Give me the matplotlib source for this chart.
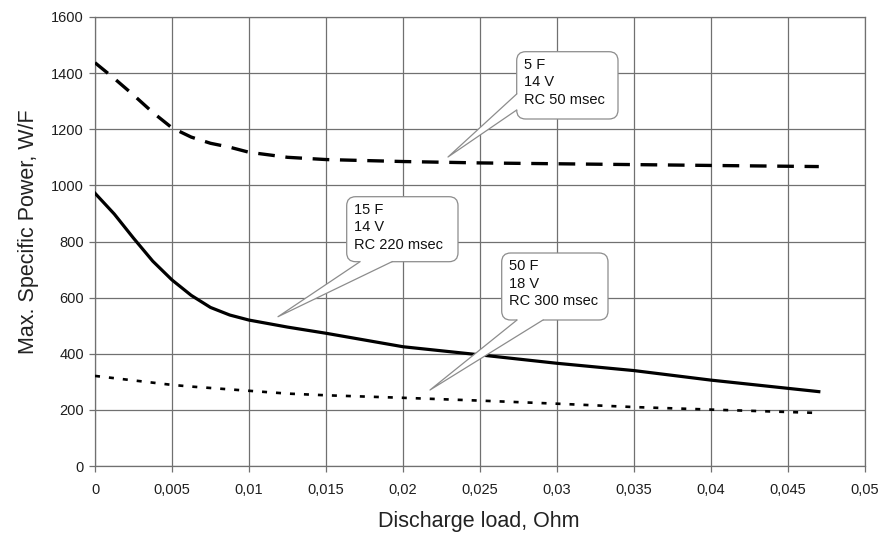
import matplotlib
matplotlib.use("Agg")
import matplotlib.pyplot as plt
from matplotlib.patches import FancyBboxPatch, Polygon
import numpy as np

plt.rcParams['font.family'] = ['Liberation Sans', 'DejaVu Sans']

# ---- data ----
load_ohm = [0, 0.00125, 0.0025, 0.00375, 0.005, 0.00625, 0.0075, 0.00875, 0.01, 0.0125,
            0.015, 0.02, 0.025, 0.03, 0.035, 0.04, 0.047]
power_5F = [1437, 1381, 1322, 1260, 1205, 1172, 1150, 1136, 1118, 1100,
            1092, 1085, 1080, 1077, 1074, 1071, 1067]
power_15F = [972, 898, 812, 730, 663, 608, 565, 538, 520, 495,
             473, 425, 396, 366, 340, 306, 265]
power_50F = [321, 313, 305, 297, 289, 283, 278, 273, 268, 258,
             252, 243, 233, 222, 210, 201, 189]

x_ticks = [0, 0.005, 0.01, 0.015, 0.02, 0.025, 0.03, 0.035, 0.04, 0.045, 0.05]
x_tick_labels = ["0", "0,005", "0,01", "0,015", "0,02", "0,025", "0,03", "0,035", "0,04", "0,045", "0,05"]
y_ticks = [0, 200, 400, 600, 800, 1000, 1200, 1400, 1600]

label_5F = "5 F\n14 V\nRC 50 msec"
label_15F = "15 F\n14 V\nRC 220 msec"
label_50F = "50 F\n18 V\nRC 300 msec"

# ---- figure ----
W, H = 880, 535
fig = plt.figure(figsize=(W / 100, H / 100), dpi=100)
L, R, T, B = 95, 865, 17, 466
ax = fig.add_axes([L / W, 1 - B / H, (R - L) / W, (B - T) / H])
ax.set_xlim(0, 0.05)
ax.set_ylim(0, 1600)

grid_c = '#707070'
ax.set_xticks(x_ticks)
ax.set_xticklabels(x_tick_labels)
ax.set_yticks(y_ticks)
ax.grid(True, color=grid_c, linewidth=0.9)
ax.set_axisbelow(True)
for s in ax.spines.values():
    s.set_color(grid_c)
    s.set_linewidth(0.9)
ax.tick_params(axis='both', colors=grid_c, length=4, width=0.9, labelsize=10.5,
               labelcolor='#1e1e1e')
ax.tick_params(axis='x', pad=8)
ax.tick_params(axis='y', pad=4)

ax.plot(load_ohm, power_5F, color='black', linewidth=2.4, dashes=(5, 3.2),
        solid_capstyle='butt', zorder=3)
ax.plot(load_ohm, power_15F, color='black', linewidth=2.3, zorder=3)
ax.plot(load_ohm, power_50F, color='black', linewidth=1.9, dashes=(1.9, 3.4), zorder=3)

ax.set_xlabel("Discharge load, Ohm", fontsize=15.5, color='#222222')
ax.set_ylabel("Max. Specific Power, W/F", fontsize=15.5, color='#222222')
ax.xaxis.set_label_coords(0.4987, -0.1)
ax.yaxis.set_label_coords(-0.073, 0.521)

# ---- callouts (positions in pixel space, converted to data) ----
xpp = 0.05 / (R - L)      # data x per pixel
ypp = 1600 / (B - T)      # data y per pixel
def px2d(px, py):
    return ((px - L) * xpp, (B - py) * ypp)

aspect = ypp / xpp
edge_c = '#8c8c8c'

def callout(box, base1, base2, tip, text, inward):
    x0, y0 = px2d(box[0], box[3])
    x1, y1 = px2d(box[2], box[1])
    patch = FancyBboxPatch((x0, y0), x1 - x0, y1 - y0,
                           boxstyle="round,pad=0,rounding_size=%g" % (9 * xpp),
                           mutation_aspect=aspect,
                           facecolor='white', edgecolor=edge_c, linewidth=0.9, zorder=5)
    ax.add_patch(patch)
    dx, dy = inward
    b1 = px2d(*base1); b2 = px2d(*base2); t = px2d(*tip)
    b1i = px2d(base1[0] + dx, base1[1] + dy)
    b2i = px2d(base2[0] + dx, base2[1] + dy)
    ax.add_patch(Polygon([b1i, b1, t, b2, b2i], closed=True, facecolor='white',
                         edgecolor='none', zorder=6))
    ax.plot([b1[0], t[0], b2[0]], [b1[1], t[1], b2[1]], color=edge_c, linewidth=0.9,
            zorder=7)
    tx, ty = px2d(box[0] + 7, box[1] + 6)
    ax.text(tx, ty, text, fontsize=10.5, color='#111111', va='top', ha='left',
            linespacing=1.33, zorder=8)

callout((516.7, 51.7, 618, 119), (516.7, 94), (516.7, 110), (448, 157), label_5F, (4, 0))
callout((346.7, 196.7, 458, 261.7), (360, 261.7), (392, 261.7), (278, 316.7), label_15F, (0, -4))
callout((501.7, 253, 608, 320), (517, 320), (543, 320), (430, 390), label_50F, (0, -4))

fig.savefig("out.png", dpi=100)
